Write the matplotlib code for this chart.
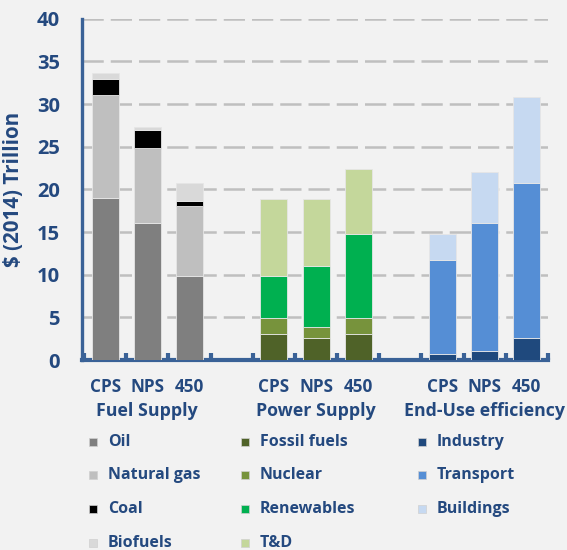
import matplotlib
matplotlib.use("Agg")
import matplotlib.pyplot as plt
import numpy as np
from matplotlib.patches import Rectangle

# ---- data ----
scenarios = ["CPS", "NPS", "450"]
groups = ["Fuel Supply", "Power Supply", "End-Use efficiency"]

fuel_names = ["Oil", "Natural gas", "Coal", "Biofuels"]
fuel_oil = [19.0, 16.1, 9.8]
fuel_gas = [12.1, 8.8, 8.2]
fuel_coal = [1.8, 2.1, 0.6]
fuel_bio = [0.7, 0.3, 2.2]

power_names = ["Fossil fuels", "Nuclear", "Renewables", "T&D"]
power_fossil = [3.0, 2.6, 3.0]
power_nuclear = [1.9, 1.3, 1.9]
power_renew = [4.9, 7.1, 9.9]
power_td = [9.1, 7.9, 7.6]

end_names = ["Industry", "Transport", "Buildings"]
end_industry = [0.7, 1.1, 2.6]
end_transport = [11.0, 15.0, 18.2]
end_buildings = [3.1, 5.9, 10.0]

fuel_colors = ["#7F7F7F", "#BFBFBF", "#000000", "#D9D9D9"]
power_colors = ["#4F6228", "#77933C", "#00B050", "#C4D79B"]
end_colors = ["#1F497D", "#558ED5", "#C6D9F1"]

ytick_vals = [0, 5, 10, 15, 20, 25, 30, 35, 40]

text_col = "#24497F"
axis_col = "#3A6297"
bg = "#F2F2F2"
font = "Open Sans"

fig = plt.figure(figsize=(5.67, 5.50), dpi=100, facecolor=bg)
W, H = 567, 550
ax = fig.add_axes([82 / W, 1 - 360 / H, (548 - 82) / W, (360 - 18.7) / H])
ax.set_facecolor(bg)

groups_data = [
    ([fuel_oil, fuel_gas, fuel_coal, fuel_bio], fuel_colors, 0),
    ([power_fossil, power_nuclear, power_renew, power_td], power_colors, 4),
    ([end_industry, end_transport, end_buildings], end_colors, 8),
]
width = 0.64
bar_pos = []
for series, colors, start in groups_data:
    x = np.arange(3) + start
    bar_pos.extend(list(x))
    bottom = np.zeros(3)
    for vals, c in zip(series, colors):
        ax.bar(x, vals, width, bottom=bottom, color=c, edgecolor="#E6E6E6",
               linewidth=0.6, zorder=3)
        bottom += np.array(vals)

ax.set_xlim(-0.55, 10.5)
ax.set_ylim(0, 40)
ax.set_yticks(ytick_vals)
ax.set_yticklabels([str(v) for v in ytick_vals], fontsize=14.5, fontweight="bold",
                   color=text_col, fontfamily=font)
ax.tick_params(axis="y", length=0, pad=16)

ax.set_xticks(bar_pos)
ax.set_xticklabels(scenarios * 3, fontsize=12.3, fontweight="bold",
                   color=text_col, fontfamily=font)
ax.tick_params(axis="x", which="major", length=0, pad=13)
ax.set_xticks(np.arange(-0.5, 11, 1.0), minor=True)
ax.tick_params(axis="x", which="minor", direction="in", length=5, width=3,
               color=axis_col)

for y in ytick_vals[1:]:
    ax.axhline(y, color="#BFBFBF", lw=1.8, dashes=(8.5, 2.8), zorder=1)

for s in ["top", "right"]:
    ax.spines[s].set_visible(False)
ax.spines["left"].set_color(axis_col)
ax.spines["left"].set_linewidth(2.4)
ax.spines["bottom"].set_color(axis_col)
ax.spines["bottom"].set_linewidth(3)

ax.set_ylabel("$ (2014) Trillion", fontsize=14.8, fontweight="bold",
              color=text_col, fontfamily=font, labelpad=9)

for g, (_, _, start) in zip(groups, groups_data):
    xc = start + 1
    xpix = 82 + (xc + 0.55) / 11.05 * (548 - 82)
    fig.text(xpix / W, 1 - 411 / H, g, ha="center", va="center", fontsize=12.8,
             fontweight="bold", color=text_col, fontfamily=font)

# legend
col_x = [93, 245, 422]
row_y = [442, 475, 509, 543]
for cx, names, colors in zip(col_x, [fuel_names, power_names, end_names],
                             [fuel_colors, power_colors, end_colors]):
    for ry, n, c in zip(row_y, names, colors):
        fig.patches.append(Rectangle(((cx - 4) / W, 1 - (ry + 4) / H), 8 / W, 8 / H,
                                     transform=fig.transFigure, facecolor=c,
                                     edgecolor="#D0D0D0", linewidth=0.5))
        fig.text((cx + 15) / W, 1 - ry / H, n, ha="left", va="center",
                 fontsize=11.5, fontweight="bold", color=text_col, fontfamily=font)

fig.savefig("out.png", dpi=100, facecolor=bg)
